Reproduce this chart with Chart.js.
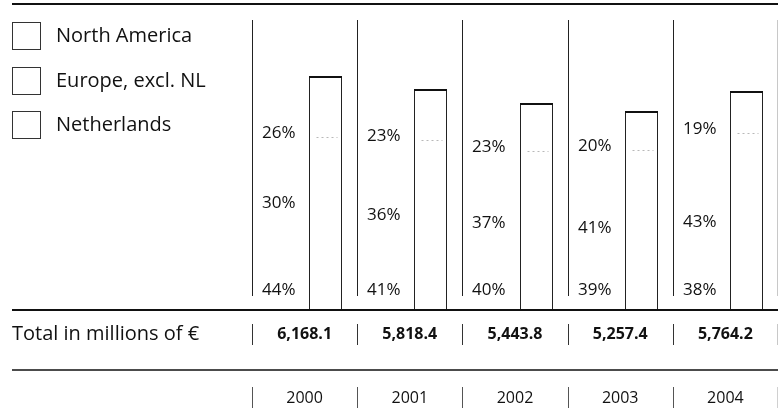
<!DOCTYPE html>
<html>
<head>
<meta charset="utf-8">
<script src="https://cdn.jsdelivr.net/npm/chart.js@4"></script>
<style>
  html, body { margin: 0; padding: 0; background: #fff; }
  #wrap { width: 778px; height: 413px; }
</style>
</head>
<body>
<div id="wrap"><canvas id="chart" width="778" height="413"></canvas></div>
<script>
const years = ['2000', '2001', '2002', '2003', '2004'];
const totals = [6168.1, 5818.4, 5443.8, 5257.4, 5764.2];
const netherlandsPct = [44, 41, 40, 39, 38];
const europePct = [30, 36, 37, 41, 43];
const northAmericaPct = [26, 23, 23, 20, 19];
const regionNames = ['North America', 'Europe, excl. NL', 'Netherlands'];
const totalLabel = 'Total in millions of \u20AC';

const FONT = '"Open Sans", "DejaVu Sans", sans-serif';
const INK = '#111';

// share of the total, in millions
const share = pct => totals.map((t, i) => t * pct[i] / 100);
const fmt = v => v.toLocaleString('en-US', { minimumFractionDigits: 1, maximumFractionDigits: 1 });

function line(ctx, x1, y1, x2, y2, color, width, dash) {
    ctx.save();
    ctx.strokeStyle = color;
    ctx.lineWidth = width;
    ctx.setLineDash(dash || []);
    ctx.beginPath();
    ctx.moveTo(x1, y1);
    ctx.lineTo(x2, y2);
    ctx.stroke();
    ctx.restore();
}

const tablePlugin = {
    id: 'table',
    afterDraw(chart) {
        const ctx = chart.ctx;
        const xs = chart.scales.x;
        const ys = chart.scales.y;
        const half = (xs.getPixelForValue(1) - xs.getPixelForValue(0)) / 2;
        const edges = [];
        for (let i = 0; i <= years.length; i++) {
            edges.push(Math.round(xs.getPixelForValue(i) - half) + 0.5);
        }
        edges[edges.length - 1] = chart.width - 0.5;
        const base = ys.getPixelForValue(0);

        const nl = chart.getDatasetMeta(1).data;
        const eu = chart.getDatasetMeta(2).data;
        const na = chart.getDatasetMeta(3).data;

        // bar outlines, snapped to whole pixels
        na.forEach((el, i) => {
            const l = Math.round(el.x - el.width / 2) + 0.5;
            const r = Math.round(el.x + el.width / 2) - 0.5;
            const t = Math.round(el.y);
            line(ctx, l, t, l, base, '#222', 1);
            line(ctx, r, t, r, base, '#222', 1);
            line(ctx, l - 0.5, t + 1, r + 0.5, t + 1, '#111', 2);
            // dotted divider between North America and Europe
            const y = Math.round(eu[i].y) + 0.5;
            line(ctx, l + 7, y, r - 4, y, '#b8b8b8', 1, [2, 3]);
        });

        // horizontal rules
        line(ctx, 12, 4, chart.width, 4, INK, 2);
        line(ctx, 12, base + 1, chart.width, base + 1, INK, 2);
        line(ctx, 12, 370, chart.width, 370, INK, 1.5);

        // column separators
        edges.forEach((x, i) => {
            const last = i === edges.length - 1;
            line(ctx, x, 20, x, 296, last ? '#c8c8c8' : '#222', 1);
            line(ctx, x, 324, x, 345, last ? '#c8c8c8' : '#333', 1);
            line(ctx, x, 387, x, 408, last ? '#d0d0d0' : '#555', 1);
        });

        // percentage labels next to each bar
        ctx.save();
        ctx.fillStyle = INK;
        ctx.font = '17px ' + FONT;
        ctx.textAlign = 'left';
        ctx.textBaseline = 'alphabetic';
        years.forEach((yr, i) => {
            const x = edges[i] + 9.5;
            ctx.fillText(northAmericaPct[i] + '%', x, eu[i].y + 1);
            ctx.fillText(europePct[i] + '%', x, nl[i].y + 1);
            ctx.fillText(netherlandsPct[i] + '%', x, base - 14);
        });
        ctx.restore();

        // totals row
        ctx.save();
        ctx.fillStyle = INK;
        ctx.textBaseline = 'middle';
        ctx.font = '20px ' + FONT;
        ctx.textAlign = 'left';
        ctx.fillText(totalLabel, 12, 334);
        ctx.font = 'bold 16px ' + FONT;
        ctx.textAlign = 'center';
        years.forEach((yr, i) => {
            ctx.fillText(fmt(totals[i]), xs.getPixelForValue(i), 334);
        });
        // year row
        ctx.font = '16px ' + FONT;
        years.forEach((yr, i) => {
            ctx.fillText(yr, xs.getPixelForValue(i), 398);
        });
        ctx.restore();

        // legend
        ctx.save();
        ctx.font = '20px ' + FONT;
        ctx.fillStyle = INK;
        ctx.textAlign = 'left';
        ctx.textBaseline = 'middle';
        regionNames.forEach((name, i) => {
            const top = Math.round(22 + 44.5 * i) + 0.5;
            ctx.strokeStyle = '#333';
            ctx.lineWidth = 1;
            ctx.strokeRect(12.5, top, 28, 27);
            ctx.fillText(name, 56, top + 14);
        });
        ctx.restore();
    }
};

const segment = {
    backgroundColor: '#fff',
    borderWidth: 0,
    stack: 'regions',
    categoryPercentage: 0.8,
    barPercentage: 0.786
};

new Chart(document.getElementById('chart'), {
    type: 'bar',
    data: {
        labels: years,
        datasets: [
            // empty slot that pushes the bars to the right of each column
            { label: 'spacer', data: years.map(() => 0), stack: 'spacer',
              backgroundColor: 'transparent', borderWidth: 0,
              categoryPercentage: 0.8, barPercentage: 0.786 },
            Object.assign({}, segment, { label: regionNames[2], data: share(netherlandsPct) }),
            Object.assign({}, segment, { label: regionNames[1], data: share(europePct) }),
            Object.assign({}, segment, { label: regionNames[0], data: share(northAmericaPct) })
        ]
    },
    options: {
        responsive: false,
        devicePixelRatio: 1,
        animation: false,
        layout: { padding: { left: 252, right: 0, top: 7, bottom: 104 } },
        scales: {
            x: { stacked: true, display: false },
            y: { stacked: true, display: false, min: 0, max: 8000 }
        },
        plugins: {
            legend: { display: false },
            tooltip: { enabled: false }
        }
    },
    plugins: [tablePlugin]
});
</script>
</body>
</html>
